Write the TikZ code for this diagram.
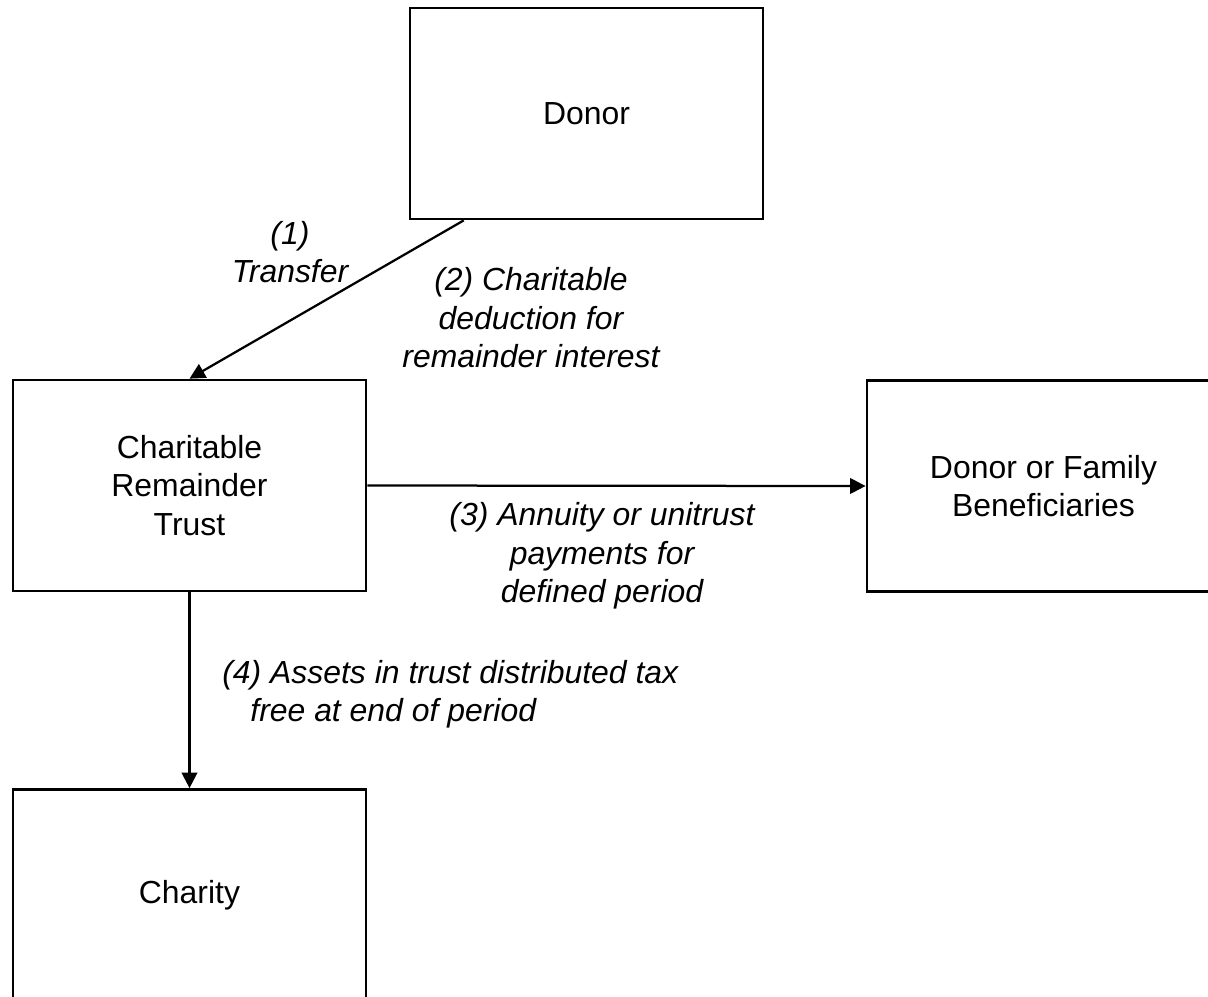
\documentclass[tikz,border=0pt]{standalone}
\usepackage{fontspec}
\setmainfont{Liberation Sans}
\usetikzlibrary{arrows.meta,positioning,calc}

\begin{document}
\begin{tikzpicture}[x=0.025cm,y=-0.025cm,
  party/.style={draw,line width=1.9pt,minimum width=8.825cm,minimum height=5.275cm,
                align=center,inner sep=0pt,font=\fontsize{22.7}{27.4}\selectfont},
  step lbl/.style={align=center,inner sep=0pt,font=\fontsize{22.7}{27.4}\selectfont\itshape},
  arr/.style={-{Triangle[length=11pt,width=11pt]},line width=1.6pt},
]
  \useasboundingbox (0,0) rectangle (1208,996);

  % Parties
  \node[party] (donor) at (586.5,113.5) {\raisebox{-2pt}{Donor}};
  \node[party] (crt) at (189.5,485.5) {Charitable\\Remainder\\Trust};
  \node[party] (family) at (1043.5,486) {Donor or Family\\Beneficiaries};
  \node[party] (charity) at (189.5,895) {\raisebox{-4pt}{Charity}};

  % Flows
  \draw[arr] ($(donor.south west)!0.155!(donor.south east)$) -- (crt.north);
  \draw[arr] (crt.east) -- (family.west);
  \draw[arr] (crt.south) -- (charity.north);

  % Step labels
  \node[step lbl] (l1) at (290,252) {(1)\\Transfer};
  \node[step lbl] (l2) at (531,318) {(2) Charitable\\deduction for\\remainder interest};
  \node[step lbl] (l3) at (602,556) {(3) Annuity or unitrust\\payments for\\defined period};
  \node[step lbl,align=left,anchor=north west] (l4) at (222,660)
    {(4) Assets in trust distributed tax\\\hspace*{20pt}free at end of period};
\end{tikzpicture}
\end{document}
